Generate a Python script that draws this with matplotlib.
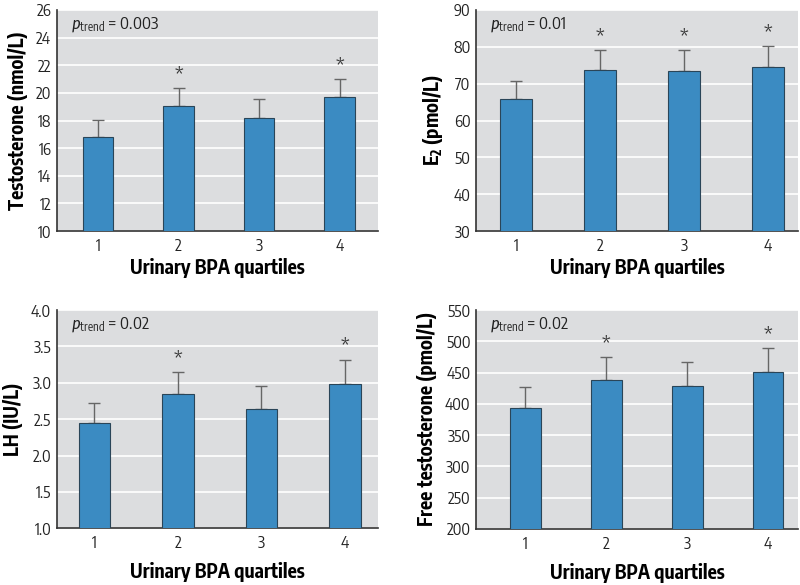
import numpy as np
import matplotlib
matplotlib.use('Agg')
import matplotlib.pyplot as plt

FONT = ['Encode Sans Condensed', 'DejaVu Sans']
plt.rcParams['font.family'] = FONT
plt.rcParams['mathtext.fontset'] = 'custom'
plt.rcParams['mathtext.rm'] = 'Encode Sans Condensed'
plt.rcParams['mathtext.it'] = 'Fira Sans Condensed:italic'
plt.rcParams['mathtext.bf'] = 'Encode Sans Condensed:bold'

quartiles = [1, 2, 3, 4]

testosterone = [16.79, 19.05, 18.19, 19.69]
testosterone_err = [1.28, 1.31, 1.38, 1.31]
e2 = [65.8, 73.6, 73.4, 74.4]
e2_err = [4.9, 5.4, 5.6, 5.7]
lh = [2.45, 2.84, 2.64, 2.98]
lh_err = [0.27, 0.31, 0.31, 0.34]
free_t = [392.6, 437.8, 429.3, 451.0]
free_t_err = [34.0, 37.7, 37.7, 39.0]

panels = [
    # values, errors, stars, ylabel, ylim, yticks, ptrend, xlim, axes rect, xlabel pad
    (testosterone, testosterone_err, [False, True, False, True], 'Testosterone (nmol/L)',
     (10, 26), np.arange(10, 27, 2), '0.003', (0.49, 4.48), [0.071, 0.605, 0.402, 0.378], 2),
    (e2, e2_err, [False, True, True, True], r'E$_\mathbf{2}$ (pmol/L)',
     (30, 90), np.arange(30, 91, 10), '0.01', (0.52, 4.36), [0.595, 0.605, 0.4025, 0.378], 2),
    (lh, lh_err, [False, True, False, True], 'LH (IU/L)',
     (1.0, 4.0), np.arange(1.0, 4.01, 0.5), '0.02', (0.55, 4.40), [0.071, 0.097, 0.402, 0.373], 7),
    (free_t, free_t_err, [False, True, False, True], 'Free testosterone (pmol/L)',
     (200, 550), np.arange(200, 551, 50), '0.02', (0.39, 4.37), [0.595, 0.096, 0.4025, 0.374], 7),
]

fig = plt.figure(figsize=(8, 5.85), dpi=100)

for vals, errs, stars, ylab, ylim, yticks, ptrend, xlim, rect, xpad in panels:
    ax = fig.add_axes(rect)
    ax.set_facecolor('#dcdddf')
    ax.set_axisbelow(True)
    ax.yaxis.grid(True, color='white', lw=1.2)
    ax.bar(quartiles, vals, width=0.38, color='#3b8bc2', edgecolor='#2a4558', lw=0.8, zorder=3)
    ax.errorbar(quartiles, vals, yerr=[np.zeros(4), errs], fmt='none', ecolor='#666666',
                elinewidth=1, capsize=4, capthick=1, zorder=2)
    for q, v, e, s in zip(quartiles, vals, errs, stars):
        if s:
            ax.annotate('*', (q, v + e), xytext=(0, 2), textcoords='offset points',
                        ha='center', va='bottom', fontsize=14, color='#333333')
    ax.set_ylim(*ylim)
    ax.set_xlim(*xlim)
    ax.set_yticks(yticks)
    if ylim[1] < 10:
        ax.set_yticklabels(['%.1f' % t for t in yticks])
    ax.set_xticks(quartiles)
    ax.tick_params(length=0, labelsize=11.5, colors='#222222', pad=4)
    ax.tick_params(axis='x', pad=5)
    for side in ['top', 'right']:
        ax.spines[side].set_visible(False)
    for side in ['left', 'bottom']:
        ax.spines[side].set_color('#333333')
        ax.spines[side].set_linewidth(1.2)
    ax.set_ylabel(ylab, fontsize=14, fontweight='bold', labelpad=6)
    ax.set_xlabel('Urinary BPA quartiles', fontsize=14, fontweight='bold', labelpad=xpad)
    ax.text(0.045, 0.975, r'$\mathit{p}_{\mathrm{trend}}$ = ' + ptrend, transform=ax.transAxes,
            fontsize=12, ha='left', va='top', color='#222222')

fig.savefig('out.png', dpi=100)
